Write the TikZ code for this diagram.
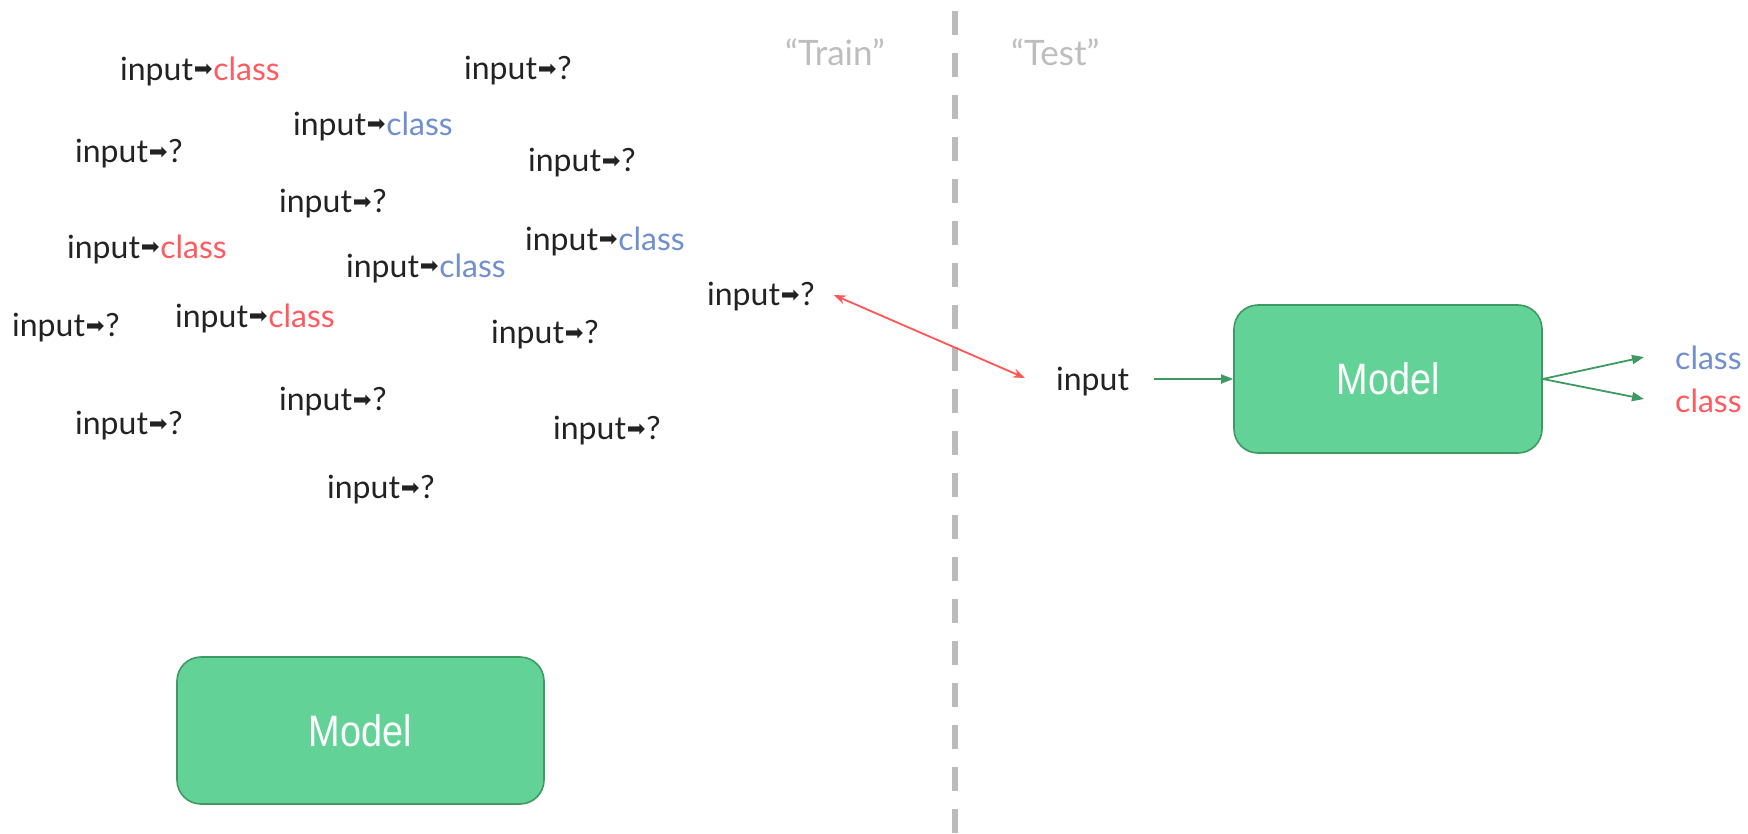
\documentclass[tikz,border=0pt]{standalone}
\usepackage{fontspec}
\usepackage{graphicx}
\usetikzlibrary{arrows.meta}
\setmainfont{Lato}
\newfontfamily\symfont{DejaVu Sans}
\newfontfamily\boxfont{Liberation Sans}

\definecolor{ink}{HTML}{222222}
\definecolor{clsred}{HTML}{FF5A5F}
\definecolor{clsblue}{HTML}{6F8FCF}
\definecolor{boxfill}{HTML}{62D296}
\definecolor{boxedge}{HTML}{3E9A62}
\definecolor{divgray}{HTML}{BBBBBB}
\definecolor{notegray}{HTML}{BDBDBD}
\definecolor{linkred}{HTML}{FF5555}

% small heavy arrow between an input and its label
\newcommand{\toarr}{\hspace{0.03em}\raisebox{0.1em}{\scalebox{0.7}{\symfont ➡}}\hspace{0.02em}}
\newcommand{\pairq}{input\toarr ?}
\newcommand{\pairr}{input\toarr\textcolor{clsred}{class}}
\newcommand{\pairb}{input\toarr\textcolor{clsblue}{class}}

\tikzset{
  sample/.style={anchor=west, inner sep=0pt, text=ink, font=\fontsize{32}{38}\selectfont},
  note/.style={anchor=west, inner sep=0pt, text=notegray, font=\fontsize{35}{40}\selectfont},
  modelbox/.style={draw=boxedge, line width=1.6pt, fill=boxfill, rounded corners=24pt,
    minimum width=308pt, minimum height=148pt, text=white,
    font=\boxfont\fontsize{44}{50}\selectfont},
  divider/.style={draw=divgray, line width=6pt, dash pattern=on 24pt off 18pt},
  link/.style={draw=linkred, line width=1.8pt, {Stealth[length=12pt,width=9pt,inset=4pt]}-{Stealth[length=12pt,width=9pt,inset=4pt]}},
  flow/.style={draw=boxedge, line width=1.8pt, -{Triangle[length=12pt,width=9pt]}}
}

\begin{document}
\begin{tikzpicture}[x=1pt,y=-1pt]
\useasboundingbox (0,0) rectangle (1748,834);

% training pool
\node[sample] (s1)  at (120,71)  {\pairr};
\node[sample] (s2)  at (464,71)  {\pairq};
\node[sample] (s3)  at (293,126) {\pairb};
\node[sample] (s4)  at (75,154)  {\pairq};
\node[sample] (s5)  at (528,163) {\pairq};
\node[sample] (s6)  at (279,204) {\pairq};
\node[sample] (s7)  at (67,249)  {\pairr};
\node[sample] (s8)  at (525,241) {\pairb};
\node[sample] (s9)  at (346,268) {\pairb};
\node[sample] (s10) at (707,297) {\pairq};
\node[sample] (s11) at (12,328)  {\pairq};
\node[sample] (s12) at (175,318) {\pairr};
\node[sample] (s13) at (491,335) {\pairq};
\node[sample] (s14) at (279,402) {\pairq};
\node[sample] (s15) at (75,426)  {\pairq};
\node[sample] (s16) at (553,431) {\pairq};
\node[sample] (s17) at (327,490) {\pairq};

\node[modelbox, minimum width=367pt, minimum height=147pt] (m1) at (360.5,730.5) {\scalebox{0.86}[1]{Model}};

% split between the two phases
\coordinate (divtop) at (955,11);
\coordinate (divbot) at (955,834);
\draw[divider] (divtop) -- (divbot);
\node[note] (train) at (785,52)  {“Train”};
\node[note] (test)  at (1011,52) {“Test”};

% test phase
\node[sample] (inp) at (1056,382) {input};
\node[modelbox] (m2) at (1388,379) {\scalebox{0.86}[1]{Model}};
\node[sample, text=clsblue] (cb) at (1675,358) {class};
\node[sample, text=clsred]  (cr) at (1675,401) {class};

\draw[link] ([xshift=19pt,yshift=2pt]s10.east) -- ([xshift=-31pt,yshift=4pt]inp.west);
\draw[flow] ([xshift=25pt,yshift=3pt]inp.east) -- (m2.west);
\draw[flow] (m2.east) -- ([xshift=-31pt,yshift=1pt]cb.west);
\draw[flow] (m2.east) -- ([xshift=-31pt,yshift=2pt]cr.west);
\end{tikzpicture}
\end{document}
